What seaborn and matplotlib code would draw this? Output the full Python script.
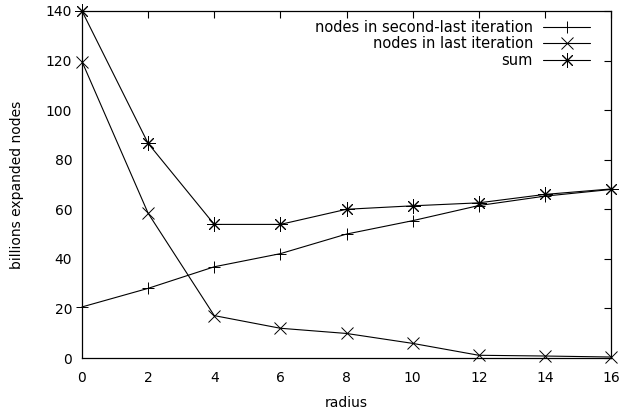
import matplotlib
matplotlib.use("Agg")
import matplotlib.pyplot as plt
import seaborn as sns
import pandas as pd

radius = [0, 2, 4, 6, 8, 10, 12, 14, 16]
second_last = [20.6, 28.1, 36.8, 42.1, 50.0, 55.4, 61.5, 65.3, 68.0]
last = [119.6, 58.4, 17.1, 12.0, 9.9, 5.9, 1.1, 0.8, 0.4]
total = [140.0, 86.6, 53.9, 53.9, 60.0, 61.4, 62.6, 66.0, 68.2]
labels = ["nodes in second-last iteration", "nodes in last iteration", "sum"]

sns.set_style("white")
plt.rcParams['font.family'] = ['DejaVu Sans']
plt.rcParams['text.color'] = 'black'
plt.rcParams['axes.labelcolor'] = 'black'

fig = plt.figure(figsize=(6.19, 4.15), dpi=100)
ax = fig.add_axes([82/619, (415-358)/415, (611-82)/619, (358-11)/415])

series = [second_last, last, total]
markers = ['+', 'x', (8, 2, 0)]
msizes = [8, 8.5, 10.5]
for vals, lab, mk, ms in zip(series, labels, markers, msizes):
    df = pd.DataFrame({"radius": radius, "value": vals})
    sns.lineplot(data=df, x="radius", y="value", ax=ax, color="black",
                 linewidth=0.8, marker=mk, markersize=ms, markeredgewidth=0.7,
                 markeredgecolor="black", label=lab, clip_on=False)

ax.set_xlim(0, 16)
ax.set_ylim(0, 140)
ax.set_xticks(range(0, 17, 2))
ax.set_yticks(range(0, 141, 20))
ax.tick_params(direction='in', length=5, width=0.8, top=True, right=True,
               labelsize=10, colors='black')
ax.tick_params(axis='y', pad=7)
ax.tick_params(axis='x', pad=9)
for s in ax.spines.values():
    s.set_linewidth(0.9)
    s.set_color('black')
ax.set_xlabel("radius", fontsize=10, labelpad=8)
ax.set_ylabel("billions expanded nodes", fontsize=10, labelpad=16)
ax.grid(False)

leg = ax.legend(loc='upper right', bbox_to_anchor=(0.960, 0.975), frameon=False,
                markerfirst=False, fontsize=10.5, handlelength=3.2,
                handletextpad=0.7, labelspacing=0.12, borderaxespad=0, borderpad=0)
for t in leg.get_texts():
    t.set_color('black')

fig.savefig("out.png", dpi=100)
